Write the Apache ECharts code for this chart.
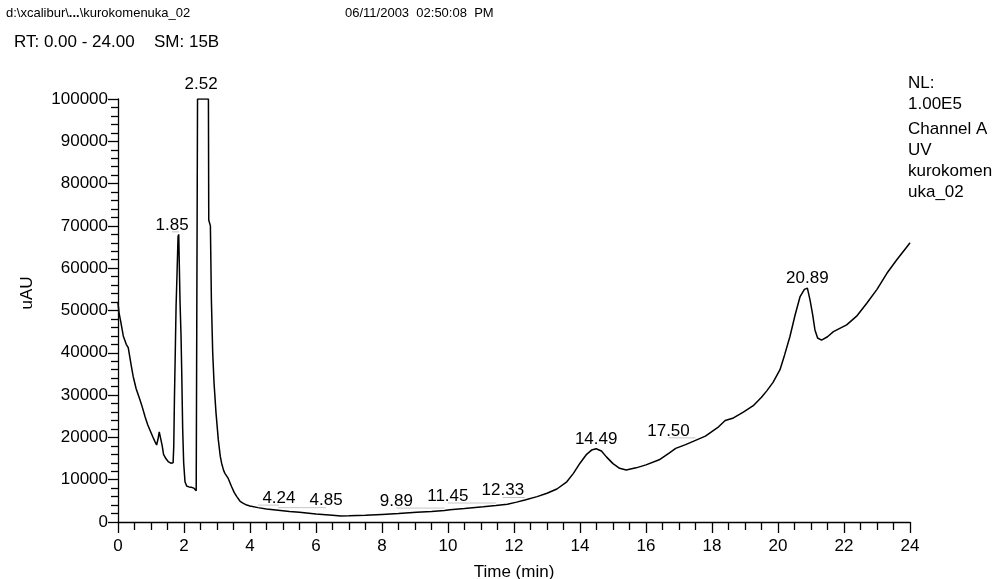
<!DOCTYPE html>
<html>
<head>
<meta charset="utf-8">
<script src="https://cdn.jsdelivr.net/npm/echarts@6/dist/echarts.min.js"></script>
<style>
  html, body { margin: 0; padding: 0; background: #ffffff; }
  #chart { width: 995px; height: 579px; }
</style>
</head>
<body>
<div id="chart"></div>
<script>
// Retention time (min) of each trace sample
const times = [
  0.00, 0.03, 0.08, 0.16, 0.25, 0.31, 0.40, 0.46, 0.55, 0.67,
  0.75, 0.82, 0.90, 0.97, 1.05, 1.12, 1.17, 1.21, 1.25, 1.30,
  1.34, 1.38, 1.45, 1.52, 1.60, 1.67, 1.69, 1.71, 1.74, 1.76,
  1.79, 1.82, 1.84, 1.86, 1.88, 1.91, 1.93, 1.96, 1.99, 2.03,
  2.08, 2.15, 2.22, 2.30, 2.37, 2.40, 2.41, 2.52, 2.74, 2.75,
  2.80, 2.83, 2.87, 2.91, 2.97, 3.04, 3.10, 3.14, 3.20, 3.24,
  3.34, 3.44, 3.52, 3.60, 3.70, 3.80, 3.90, 4.00, 4.24, 4.50,
  4.85, 5.20, 5.50, 6.00, 6.50, 6.75, 7.00, 7.50, 8.00, 8.50,
  9.05, 9.50, 9.89, 10.06, 10.50, 11.07, 11.45, 11.80, 12.08, 12.33,
  12.70, 13.00, 13.30, 13.60, 13.80, 14.00, 14.20, 14.35, 14.49, 14.65,
  14.80, 15.00, 15.20, 15.40, 15.70, 16.00, 16.40, 16.70, 16.90, 17.20,
  17.50, 17.80, 18.20, 18.40, 18.65, 18.95, 19.25, 19.50, 19.66, 19.85,
  20.06, 20.20, 20.36, 20.52, 20.67, 20.80, 20.89, 20.97, 21.05, 21.12,
  21.20, 21.32, 21.50, 21.68, 22.08, 22.40, 22.69, 23.00, 23.30, 23.60,
  23.95, 24.00
];

// UV signal (uAU), clipped at the 1.00E5 normalisation level
const signal = [
  51800, 49500, 47500, 44000, 42000, 41200, 37000, 34400, 31500, 28800,
  26800, 24900, 23000, 21700, 20200, 19000, 18200, 19500, 21300, 21200,
  18000, 16000, 15000, 14300, 13900, 14000, 18000, 29000, 42000, 51000,
  59000, 67500, 68000, 60000, 52000, 44000, 36000, 22000, 14000, 9500,
  8500, 8300, 8200, 8000, 7400, 7200, 100000, 100000, 100000, 71400,
  70000, 52500, 40000, 32900, 25800, 19400, 15500, 13900, 12200, 11500,
  10300, 8400, 7000, 6000, 4900, 4400, 4000, 3800, 3400, 3100,
  2800, 2500, 2300, 1900, 1600, 1400, 1450, 1600, 1800, 2000,
  2300, 2500, 2700, 2900, 3200, 3600, 3900, 4200, 4700, 5200,
  6000, 6800, 7800, 9500, 11500, 13900, 16000, 17000, 17300, 16800,
  15400, 13800, 12700, 12300, 12800, 13500, 14700, 16300, 17400, 18300,
  19300, 20300, 22500, 24000, 24600, 26000, 27500, 29500, 31000, 33000,
  36000, 39500, 43800, 49000, 53300, 55000, 55300, 52500, 49000, 45400,
  43500, 43000, 43800, 45000, 46600, 48800, 51700, 55000, 58800, 62000,
  65500, 66000
];

// Detected peaks: apex retention time and the signal at the apex
const peakTimes   = [1.85, 2.52, 4.24, 4.85, 9.89, 11.45, 12.33, 14.49, 17.50, 20.89];
const peakHeights = [68000, 100000, 3400, 2800, 2700, 3900, 5200, 17300, 19300, 55300];

// Axis ranges
const timeRange = [0, 24];
const signalRange = [0, 100000];

// Side-shift of crowded peak labels (px), drawn with a leader line back to the apex
const labelShift = { '1.85': -7, '4.24': 21, '4.85': 48, '9.89': -48, '11.45': -48, '12.33': -22, '17.50': -27 };
const labelLift = { '2.52': 5 };

const FONT = '"Liberation Sans", Arial, sans-serif';

const chart = echarts.init(document.getElementById('chart'), null, { renderer: 'canvas' });

const option = {
  backgroundColor: '#ffffff',
  animation: false,
  grid: { left: 118, right: 85, top: 99, bottom: 57, containLabel: false, outerBoundsMode: 'none' },
  xAxis: {
    type: 'value',
    min: timeRange[0],
    max: timeRange[1],
    interval: 2,
    name: 'Time (min)',
    nameLocation: 'middle',
    nameGap: 42,
    nameTextStyle: { color: '#000', fontSize: 17, fontFamily: FONT },
    axisLine: { show: true, onZero: false, lineStyle: { color: '#000', width: 1.3 } },
    axisTick: { show: true, length: 11, lineStyle: { color: '#000', width: 1.3 } },
    minorTick: { show: true, splitNumber: 4, length: 8, lineStyle: { color: '#000', width: 1.3 } },
    axisLabel: { color: '#000', fontSize: 17, fontFamily: FONT, margin: 16 },
    splitLine: { show: false },
    minorSplitLine: { show: false }
  },
  yAxis: {
    type: 'value',
    min: signalRange[0],
    max: signalRange[1],
    interval: 10000,
    axisLine: { show: true, onZero: false, lineStyle: { color: '#000', width: 1.3 } },
    axisTick: { show: true, length: 10, lineStyle: { color: '#000', width: 1.3 } },
    minorTick: { show: true, splitNumber: 5, length: 7, lineStyle: { color: '#000', width: 1.3 } },
    axisLabel: { color: '#000', fontSize: 17, fontFamily: FONT, margin: 10, formatter: v => String(v) },
    splitLine: { show: false },
    minorSplitLine: { show: false }
  },
  series: [
    {
      type: 'line',
      data: times.map((t, i) => [t, signal[i]]),
      showSymbol: false,
      symbol: 'none',
      smooth: false,
      clip: true,
      lineStyle: { color: '#000', width: 1.5 },
      z: 3
    },
    {
      type: 'custom',
      coordinateSystem: 'cartesian2d',
      data: peakTimes.map((t, i) => [t, peakHeights[i]]),
      clip: false,
      z: 5,
      renderItem(params, api) {
        const t = api.value(0);
        const v = api.value(1);
        const p = api.coord([t, v]);
        const txt = t.toFixed(2);
        const dx = labelShift[txt] || 0;
        const lift = labelLift[txt] || 0;
        const children = [];
        if (dx !== 0) {
          children.push({
            type: 'line',
            shape: { x1: p[0], y1: p[1] - 2.5, x2: p[0] + dx, y2: p[1] - 2.5 },
            style: { stroke: '#c6c6c6', lineWidth: 1 }
          });
        }
        children.push({
          type: 'text',
          x: p[0] + dx,
          y: p[1] - 1 - lift,
          style: { text: txt, fill: '#000', font: '17px ' + FONT, align: 'center', verticalAlign: 'bottom' }
        });
        return { type: 'group', children };
      }
    }
  ],
  graphic: [
    {
      type: 'text', left: 6, top: 7,
      style: {
        text: 'd:\\xcalibur\\{b|...}\\kurokomenuka_02',
        font: '13px ' + FONT, fill: '#000',
        rich: { b: { fontWeight: 'bold', fontSize: 13, fontFamily: FONT } }
      }
    },
    { type: 'text', left: 345, top: 7, style: { text: '06/11/2003  02:50:08  PM', font: '13px ' + FONT, fill: '#000' } },
    { type: 'text', left: 14, top: 34, style: { text: 'RT: 0.00 - 24.00', font: '17px ' + FONT, fill: '#000' } },
    { type: 'text', left: 154, top: 34, style: { text: 'SM: 15B', font: '17px ' + FONT, fill: '#000' } },
    {
      type: 'text', x: 27, y: 293, rotation: Math.PI / 2,
      style: { text: 'uAU', font: '17px ' + FONT, fill: '#000', align: 'center', verticalAlign: 'middle' }
    },
    { type: 'text', left: 908, top: 75, style: { text: 'NL:', font: '17px ' + FONT, fill: '#000' } },
    { type: 'text', left: 908, top: 96, style: { text: '1.00E5', font: '17px ' + FONT, fill: '#000' } },
    { type: 'text', left: 908, top: 121, style: { text: 'Channel A', font: '17px ' + FONT, fill: '#000' } },
    { type: 'text', left: 908, top: 142, style: { text: 'UV', font: '17px ' + FONT, fill: '#000' } },
    { type: 'text', left: 908, top: 163, style: { text: 'kurokomen', font: '17px ' + FONT, fill: '#000' } },
    { type: 'text', left: 908, top: 184, style: { text: 'uka_02', font: '17px ' + FONT, fill: '#000' } }
  ]
};

chart.setOption(option);
</script>
</body>
</html>
